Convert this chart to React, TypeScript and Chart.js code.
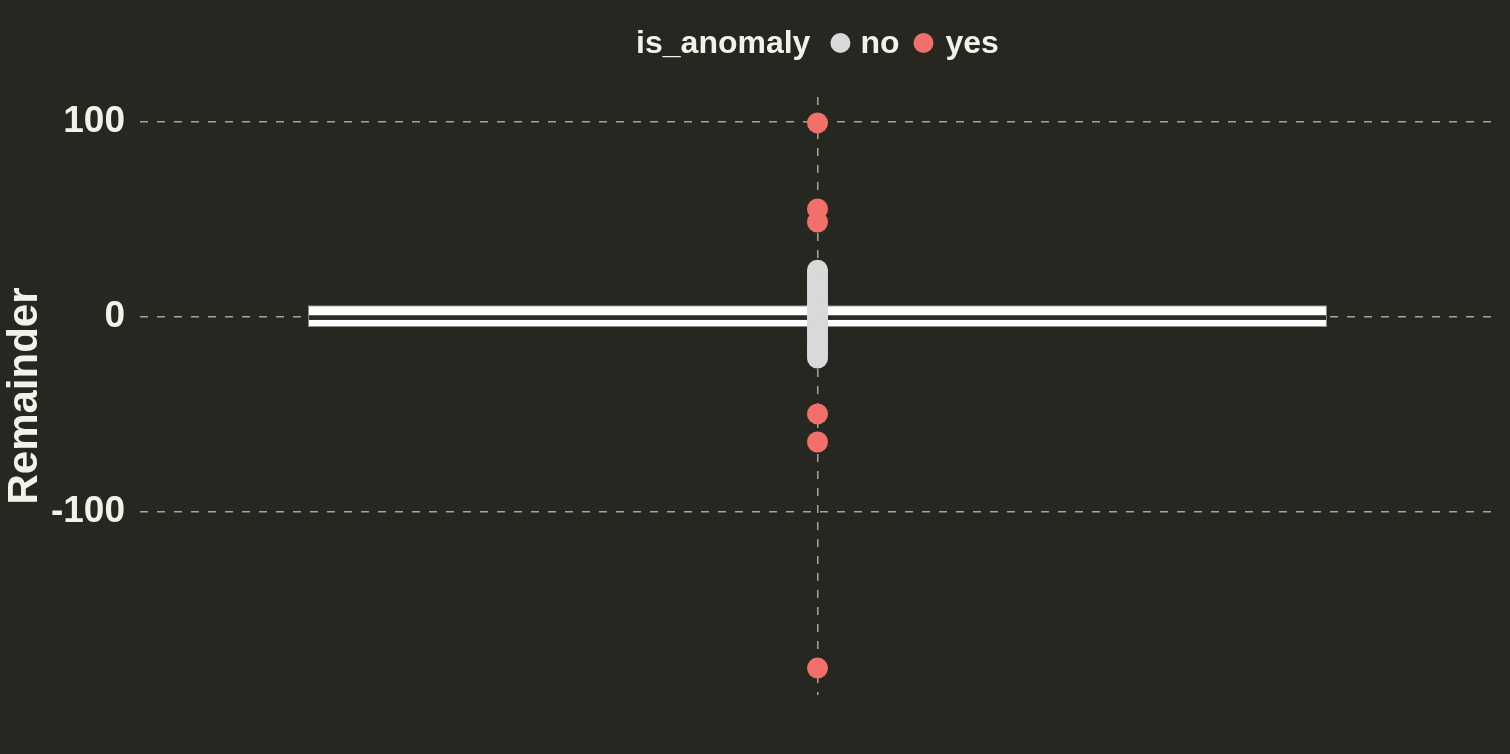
import React, { useEffect, useRef } from 'react';
import { Chart, registerables } from 'chart.js';

Chart.register(...registerables);

// ---- data ----
const categories = ['remainder'];
const noValues = [
  24, 22.5, 21, 19.5, 18, 16.5, 15, 13.5, 12, 10.5, 9, 7.5, 6, 5, 4, 3, 2, 1, 0,
  -1, -2, -3, -4, -5, -6, -7.5, -9, -10.5, -12, -13.5, -15, -16.5, -18, -19.5, -21,
];
const yesValues = [99.5, 55.4, 48.7, -49.7, -64.1, -180];
const boxQ1 = [-5.1];
const boxQ3 = [6.0];
const boxMedian = [-0.3];
const yTicks = [-100, 0, 100];
const yMin = -193.8;
const yMax = 112.8;
const legendTitle = 'is_anomaly';
const legendLabels = ['no', 'yes'];
const yTitle = 'Remainder';

// ---- styles ----
const BG = '#272722';
const TEXT = '#f2f2ea';
const GRID = '#a9a68f';
const NO_COLOR = '#d9d9d9';
const YES_COLOR = '#f3706a';
const FONT = '"Liberation Sans", Arial, Helvetica, sans-serif';

const bgPlugin = {
  id: 'bgFill',
  beforeDraw(chart: any) {
    const ctx = chart.ctx;
    ctx.save();
    ctx.fillStyle = BG;
    ctx.fillRect(0, 0, chart.width, chart.height);
    ctx.restore();
  },
};

const medianPlugin = {
  id: 'medianLine',
  afterDatasetDraw(chart: any, args: any) {
    if (args.index !== 0) return;
    const meta = chart.getDatasetMeta(0);
    const ctx = chart.ctx;
    ctx.save();
    ctx.fillStyle = '#2a2a26';
    meta.data.forEach((el: any, i: number) => {
      const { x, width } = el.getProps(['x', 'width'], true);
      const y = chart.scales.y.getPixelForValue(boxMedian[i]);
      ctx.fillRect(x - width / 2 + 1, y - 2.35, width - 2, 4.7);
    });
    ctx.restore();
  },
};

const legendPlugin = {
  id: 'ggLegend',
  afterDraw(chart: any) {
    const ctx = chart.ctx;
    const { left, right } = chart.chartArea;
    ctx.save();
    ctx.font = `bold 32px ${FONT}`;
    ctx.textBaseline = 'middle';
    ctx.textAlign = 'left';
    const y = 44;
    const r = 10;
    const wT = ctx.measureText(legendTitle).width;
    const w0 = ctx.measureText(legendLabels[0]).width;
    const w1 = ctx.measureText(legendLabels[1]).width;
    const total = wT + 20 + 2 * r + 10 + w0 + 14 + 2 * r + 12 + w1;
    let x = (left + right) / 2 - total / 2;
    ctx.fillStyle = TEXT;
    ctx.fillText(legendTitle, x, y);
    x += wT + 20;
    const colors = [NO_COLOR, YES_COLOR];
    const gaps = [14, 0];
    legendLabels.forEach((lab, i) => {
      ctx.fillStyle = colors[i];
      ctx.beginPath();
      ctx.arc(x + r, y - 1, r, 0, Math.PI * 2);
      ctx.fill();
      x += 2 * r + (i === 0 ? 10 : 12);
      ctx.fillStyle = TEXT;
      ctx.fillText(lab, x, y);
      x += ctx.measureText(lab).width + gaps[i];
    });
    ctx.restore();
  },
};

export default function App() {
  const ref = useRef<HTMLCanvasElement | null>(null);

  useEffect(() => {
    if (!ref.current) return;
    const chart = new Chart(ref.current, {
      type: 'bar',
      data: {
        labels: categories,
        datasets: [
          {
            type: 'bar',
            label: 'box',
            data: categories.map((_, i) => [boxQ1[i], boxQ3[i]]) as any,
            backgroundColor: '#ffffff',
            borderColor: '#8c8c88',
            borderWidth: 1,
            borderSkipped: false,
            categoryPercentage: 1,
            barPercentage: 0.752,
            grouped: false,
            order: 2,
          } as any,
          {
            type: 'line',
            label: legendLabels[0],
            data: noValues.map((v) => ({ x: categories[0], y: v })),
            showLine: false,
            pointRadius: 10.5,
            pointBackgroundColor: NO_COLOR,
            pointBorderWidth: 0,
            pointBorderColor: NO_COLOR,
            order: 1,
          } as any,
          {
            type: 'line',
            label: legendLabels[1],
            data: yesValues.map((v) => ({ x: categories[0], y: v })),
            showLine: false,
            pointRadius: 10.5,
            pointBackgroundColor: YES_COLOR,
            pointBorderWidth: 0,
            pointBorderColor: YES_COLOR,
            order: 0,
          } as any,
        ],
      },
      options: {
        animation: false,
        responsive: true,
        maintainAspectRatio: false,
        layout: { padding: { top: 97, right: 15, bottom: 59, left: 0 } },
        plugins: {
          legend: { display: false },
          tooltip: { enabled: false },
        },
        scales: {
          x: {
            type: 'category',
            offset: true,
            grid: {
              display: true,
              offset: false,
              color: GRID,
              lineWidth: 1.5,
              drawTicks: false,
              borderDash: [8, 9],
            } as any,
            border: { display: false, dash: [8, 9] },
            ticks: { display: false },
            afterFit: (scale: any) => {
              scale.height = 0;
            },
          },
          y: {
            type: 'linear',
            min: yMin,
            max: yMax,
            afterBuildTicks: (scale: any) => {
              scale.ticks = yTicks.map((v) => ({ value: v }));
            },
            grid: {
              color: GRID,
              lineWidth: 1.5,
              drawTicks: false,
              borderDash: [8, 9],
            } as any,
            border: { display: false, dash: [8, 9] },
            ticks: {
              color: TEXT,
              padding: 15,
              font: { family: FONT, size: 37, weight: 'bold' },
            },
            title: {
              display: true,
              text: yTitle,
              color: TEXT,
              padding: { top: 0, bottom: 0 },
              font: { family: FONT, size: 42, weight: 'bold' },
            },
            afterFit: (scale: any) => {
              scale.width = 140;
            },
          },
        },
      },
      plugins: [bgPlugin, medianPlugin, legendPlugin],
    });
    return () => chart.destroy();
  }, []);

  return (
    <div
      style={{
        position: 'fixed',
        left: 0,
        top: 0,
        width: 1510,
        height: 754,
        background: BG,
      }}
    >
      <canvas ref={ref} />
    </div>
  );
}
